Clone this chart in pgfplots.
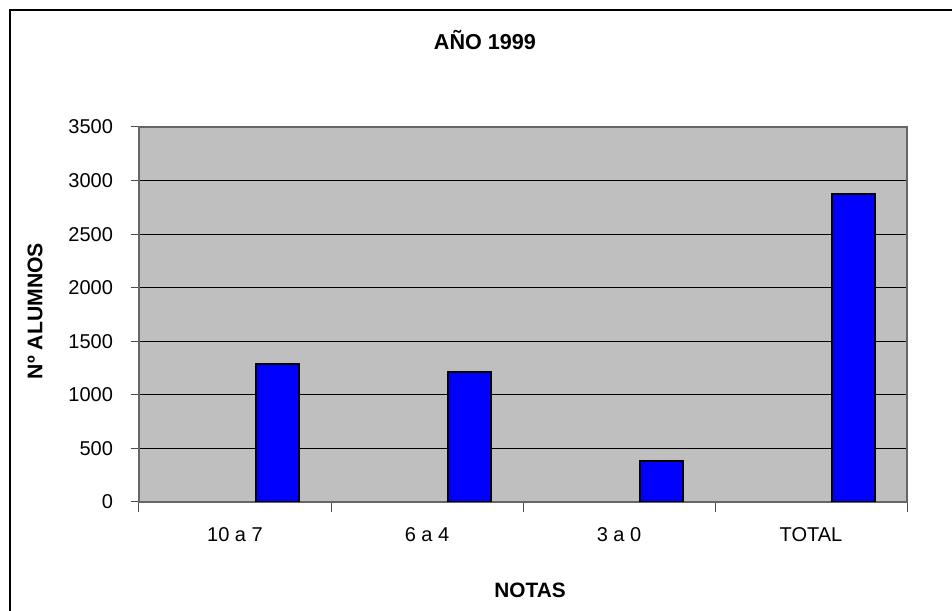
\documentclass[border=0pt]{standalone}
\usepackage{fontspec}
\setmainfont{Liberation Sans}
\usepackage{pgfplots}
\pgfplotsset{compat=1.18}
\begin{document}
\begin{tikzpicture}
% canvas in reference pixels, 1px = 0.5pt; tikz y = (610 - pixel y)*0.5pt
\path[use as bounding box] (0,0) rectangle (476pt,305pt);
\draw[line width=1pt] (5pt,-1pt) -- (5pt,300pt) -- (477pt,300pt);
\node[font=\fontsize{10.8}{12}\selectfont\bfseries] at (242.5pt,285pt) {AÑO 1999};
\node[font=\fontsize{10.6}{12}\selectfont\bfseries, rotate=90] at (17.5pt,149.5pt) {Nº ALUMNOS};
\node[font=\fontsize{10.4}{12}\selectfont\bfseries] at (265pt,10pt) {NOTAS};
\begin{axis}[
  at={(69.5pt,54pt)}, anchor=south west,
  scale only axis, width=384pt, height=187.5pt,
  xmin=-0.5, xmax=3.5, ymin=0, ymax=3500,
  axis background/.style={fill=black!25},
  axis line style={draw=black!60, line width=0.6pt},
  ytick={0,500,...,3500},
  ymajorgrids, grid style={black, line width=0.5pt},
  xtick={0,1,2,3},
  xticklabels={10 a 7,6 a 4,3 a 0,TOTAL},
  minor xtick={-0.5,0.5,1.5,2.5,3.5},
  major x tick style={draw=none},
  minor x tick style={draw=black!70, line width=0.5pt},
  minor tick length=5pt,
  major y tick style={draw=black!70, line width=0.5pt},
  major tick length=4pt,
  tick align=outside,
  xtick pos=bottom, ytick pos=left,
  tick label style={font=\fontsize{10}{12}\selectfont},
  /pgf/number format/assume math mode=true,
  /pgf/number format/1000 sep={},
  xticklabel style={yshift=-5pt},
  yticklabel style={xshift=-5.5pt},
]
\addplot[ybar, bar width=0.227, bar shift=0.221, fill=blue, draw=black, line width=1pt]
  coordinates {(0,1285) (1,1210) (2,380) (3,2875)};
\end{axis}
\end{tikzpicture}
\end{document}
